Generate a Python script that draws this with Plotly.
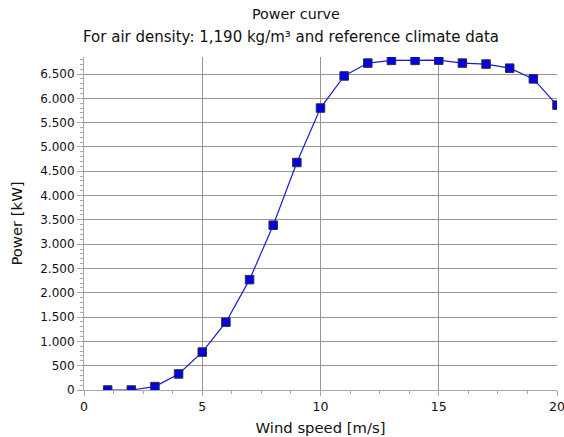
import plotly.graph_objects as go

# Power curve data
wind_speed = [1, 2, 3, 4, 5, 6, 7, 8, 9, 10, 11, 12, 13, 14, 15, 16, 17, 18, 19, 20]
power_kw = [0, 0, 70, 330, 780, 1395, 2270, 3390, 4680, 5800, 6460, 6725, 6780, 6780,
            6785, 6725, 6705, 6620, 6400, 5860]

title_text = "Power curve"
subtitle_text = "For air density: 1,190 kg/m³ and reference climate data"
x_title = "Wind speed [m/s]"
y_title = "Power [kW]"

FONT = "DejaVu Sans"
GRID = "#969696"
AXIS = "#a8a8a8"

fig = go.Figure()
fig.add_trace(go.Scatter(
    x=wind_speed,
    y=power_kw,
    mode="lines+markers",
    line=dict(color="#1a1ad8", width=1.2),
    marker=dict(symbol="square", size=8.5, color="#0000e6",
                line=dict(color="#303030", width=1)),
    cliponaxis=True,
    showlegend=False,
))

fig.update_layout(
    width=564,
    height=437,
    margin=dict(l=84, r=7, t=57, b=47, autoexpand=False),
    paper_bgcolor="white",
    plot_bgcolor="white",
    separators=",.",
    font=dict(family=FONT, size=12, color="#111111"),
)

# Two-line heading placed relative to the top of the plot area
fig.add_annotation(text=title_text, xref="paper", yref="paper", x=(296 - 84) / 473,
                   y=1, yshift=43, showarrow=False, xanchor="center", yanchor="middle",
                   font=dict(size=14.3, family=FONT, color="#111111"))
fig.add_annotation(text=subtitle_text, xref="paper", yref="paper", x=(291 - 84) / 473,
                   y=1, yshift=20, showarrow=False, xanchor="center", yanchor="middle",
                   font=dict(size=15, family=FONT, color="#111111"))

fig.update_xaxes(
    range=[0, 20],
    tick0=0, dtick=5,
    showgrid=True, gridcolor=GRID, gridwidth=1,
    showline=True, linecolor=AXIS, linewidth=1,
    ticks="outside", ticklen=5, tickcolor=AXIS,
    minor=dict(dtick=1.25, tick0=0, ticks="outside", ticklen=3, tickcolor=AXIS, showgrid=False),
    zeroline=False,
    automargin=False,
    ticklabeloverflow="allow",
    title=dict(text=x_title, font=dict(size=14.8, family=FONT), standoff=9),
    tickfont=dict(size=12.5, family=FONT),
)

fig.update_yaxes(
    range=[0, 6850],
    tick0=0, dtick=500,
    tickformat=",d",
    showgrid=True, gridcolor=GRID, gridwidth=1,
    showline=True, linecolor=AXIS, linewidth=1,
    ticks="outside", ticklen=6, tickcolor=AXIS,
    minor=dict(dtick=100, tick0=0, ticks="outside", ticklen=3, tickcolor=AXIS, showgrid=False),
    zeroline=False,
    automargin=False,
    title=dict(text=y_title, font=dict(size=14.8, family=FONT), standoff=14),
    tickfont=dict(size=12, family=FONT),
)

fig.write_html("out.html")
